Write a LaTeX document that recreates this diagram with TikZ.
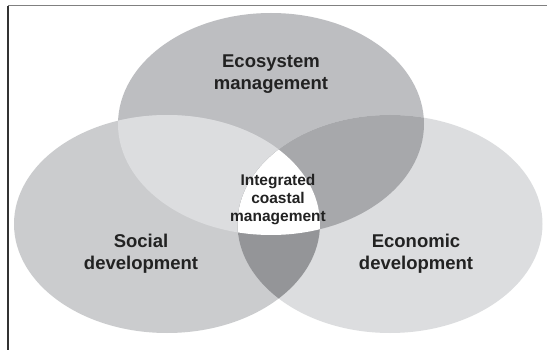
\documentclass[tikz,border=0pt]{standalone}
\usepackage{fontspec}
\setmainfont{Liberation Sans}
\definecolor{topc}{HTML}{BDBEC1}
\definecolor{leftc}{HTML}{CBCCCE}
\definecolor{rightc}{HTML}{DCDDDF}
\definecolor{tlc}{HTML}{DCDDDF}
\definecolor{trc}{HTML}{A7A8AB}
\definecolor{lrc}{HTML}{949598}
\definecolor{txtc}{HTML}{222222}
\newcommand{\ETop}{(271,124) ellipse [x radius=153, y radius=111]}
\newcommand{\ELeft}{(167,224) ellipse [x radius=153, y radius=109]}
\newcommand{\ERight}{(390,224) ellipse [x radius=152.5, y radius=109]}
\begin{document}
\begin{tikzpicture}[x=1pt,y=-1pt,
  biglab/.style={align=center,inner sep=0pt,text=txtc,font=\bfseries\fontsize{18.5}{22}\selectfont},
  smalllab/.style={align=center,inner sep=0pt,text=txtc,font=\bfseries\fontsize{15.5}{18}\selectfont}]
\useasboundingbox (0,0) rectangle (547,350);
\fill[white] (0,0) rectangle (547,350);
% single ellipses
\fill[topc] \ETop;
\fill[leftc] \ELeft;
\fill[rightc] \ERight;
% pairwise overlaps
\begin{scope}\clip \ETop; \fill[tlc] \ELeft; \end{scope}
\begin{scope}\clip \ETop; \fill[trc] \ERight; \end{scope}
\begin{scope}\clip \ELeft; \fill[lrc] \ERight; \end{scope}
% triple overlap
\begin{scope}\clip \ETop; \clip \ELeft; \fill[white] \ERight; \end{scope}
% frame
\coordinate (fTL) at (8,5.6);
\coordinate (fTR) at (547,5.6);
\coordinate (fBL) at (8,350);
\draw[line width=1.6pt,color=black!50] (fTL) -- (fTR);
\draw[line width=1.2pt,color=black!80] (fTL) -- (fBL);
% labels
\node[biglab] (eco) at (271,74.4) {Ecosystem\\management};
\node[biglab] (soc) at (141,253.7) {Social\\development};
\node[biglab] (econ) at (416,253.7) {Economic\\development};
\node[smalllab] (icm) at (278,199.2) {Integrated\\coastal\\management};
\end{tikzpicture}
\end{document}
